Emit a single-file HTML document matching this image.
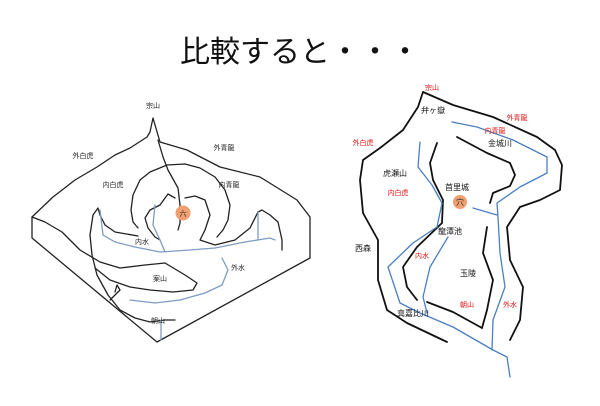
<!DOCTYPE html>
<html><head><meta charset="utf-8"><style>
html,body{margin:0;padding:0;background:#fff;}
svg{display:block}
text{font-family:"Liberation Sans","Noto Sans CJK JP",sans-serif;}
</style></head><body>
<svg width="600" height="406" viewBox="0 0 600 406" xmlns="http://www.w3.org/2000/svg">
<text x="300" y="62" font-size="30" text-anchor="middle" fill="#111">比較すると・・・</text>

<g fill="none" stroke="#222" stroke-width="1.3" stroke-linejoin="round" stroke-linecap="round">
<!-- left diagram box -->
<path d="M153,118 L150,132 L147,137 L130,148 L115,155 L97,167 L75,180 L53,197 L32,217 L32,238 L157,342 L310,258 L310,217 L297,200 L260,177 L220,167 L187,150 L160,142 L153,118"/>
<path d="M32,217 L45,222 L62,232 L80,250 L100,262 L120,268 L145,265 L165,263 L185,275 L197,283 L193,290 L173,292 L150,290 L130,287 L110,280 L95,268"/>
<path d="M158,140 L163,157 L168,170 L178,188 L180,205 L180,223 L178,230"/>
<path d="M167,165 L150,172 L140,180 L133,195 L131,210 L133,222 L138,228"/>
<path d="M167,165 L185,164 L200,168 L215,177 L225,190 L230,205 L228,220 L223,230 L217,237"/>
<path d="M138,236 L115,232 L105,225 L100,215 L98,208 L93,215 L90,235 L92,255 L97,275 L108,295 L120,310 L135,318 L150,322 L165,320 L175,320"/>
<path d="M175,198 L168,194 L160,205 L150,210 L145,218 L148,228 L155,237 L160,240"/>
<path d="M185,198 L195,196 L205,200 L210,215 L205,230 L200,240 L215,245 L235,240 L250,228 L258,212 L262,210 L270,215 L278,222 L282,240 L282,250"/>
<path d="M115,292 L117,285 L120,290 L110,300"/>
</g>
<g fill="none" stroke="#7d9cc4" stroke-width="1.3" stroke-linecap="round">
<path d="M100,210 L103,235 L115,242 L135,247 L160,252 L190,250 L215,248 L245,242 L270,238 L275,240"/>
<path d="M155,205 L153,225 L160,240 L165,252"/>
<path d="M258,212 L258,240"/>
<path d="M222,258 L228,270 L222,285 L205,293 L180,300 L155,303 L130,300"/>
<path d="M161,320 L161,340"/>
</g>
<circle cx="183" cy="213" r="7.5" fill="#f0a070"/>
<g font-size="7" fill="#222" text-anchor="middle">
<text x="153" y="108">宗山</text>
<text x="83" y="158">外白虎</text>
<text x="224" y="150">外青龍</text>
<text x="113" y="187">内白虎</text>
<text x="229" y="187">内青龍</text>
<text x="183" y="216">六</text>
<text x="142" y="244">内水</text>
<text x="238" y="270">外水</text>
<text x="160" y="281">案山</text>
<text x="158" y="323">朝山</text>
</g>

<!-- right diagram -->
<g fill="none" stroke="#111" stroke-width="1.8" stroke-linejoin="round" stroke-linecap="round">
<path d="M423,92 L418,107 L403,130 L380,148 L363,160 L360,180 L363,213 L378,240 L378,280 L387,310 L407,323 L447,342"/>
<path d="M423,92 L453,105 L493,117 L537,137 L555,150 L562,165 L560,190 L540,200 L520,207 L507,227 L510,260 L523,287 L520,320 L510,340"/>
<path d="M457,137 L487,153 L510,163 L515,175 L510,186 L493,193 L490,203"/>
<path d="M437,143 L430,163 L433,180 L443,200 L442,223 L417,247 L403,267 L407,287 L417,300"/>
<path d="M487,227 L483,253 L493,280 L487,310 L482,328"/>
<path d="M427,302 L453,312 L482,328"/>
</g>
<g fill="none" stroke="#4a7fc0" stroke-width="1.3" stroke-linejoin="round" stroke-linecap="round">
<path d="M420,142 L418,167 L432,185 L442,203 L437,227 L413,243 L388,267 L400,303 L420,313 L453,327 L493,350 L507,357 L510,377"/>
<path d="M448,237 L430,267 L423,297 L427,313"/>
<path d="M452,122 L477,127 L513,140 L547,157 L547,173 L520,187 L497,203 L498,217 L500,253 L505,287 L493,320 L492,350"/>
<path d="M473,208 L497,215"/>
</g>
<circle cx="460" cy="202" r="7" fill="#f0a070"/>
<text x="460" y="205" font-size="8" fill="#333" text-anchor="middle">穴</text>
<g font-size="7" text-anchor="middle">
<g fill="#e01010">
<text x="432" y="90">宗山</text>
<text x="517" y="120">外青龍</text>
<text x="495" y="133">内青龍</text>
<text x="363" y="145">外白虎</text>
<text x="398" y="195">内白虎</text>
<text x="422" y="258">内水</text>
<text x="467" y="307">朝山</text>
<text x="510" y="307">外水</text>
</g>
<g fill="#111" font-size="8">
<text x="433" y="113">弁ヶ嶽</text>
<text x="500" y="146">金城川</text>
<text x="395" y="176">虎瀬山</text>
<text x="457" y="190">首里城</text>
<text x="450" y="234">龍潭池</text>
<text x="363" y="251">西森</text>
<text x="468" y="276">玉陵</text>
<text x="413" y="316">真嘉比川</text>
</g>
</g>
</svg>
</body></html>
